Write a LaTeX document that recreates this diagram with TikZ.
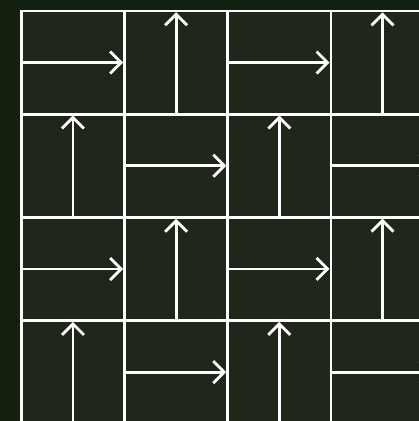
\documentclass[tikz,border=0pt]{standalone}
\usetikzlibrary{arrows.meta}
\definecolor{stripbg}{HTML}{142010}
\definecolor{panelbg}{HTML}{21261A}
\definecolor{gridline}{HTML}{FFFFFF}
\tikzset{
  gridstroke/.style={draw=gridline, line width=2.8pt, line cap=rect},
  flowarrow/.style={draw=gridline, line width=2.8pt,
    -{Straight Barb[length=11pt, width=22pt, line width=2.8pt]}},
}
\begin{document}
\begin{tikzpicture}[x=1pt, y=-1pt]
\useasboundingbox (0,0) rectangle (419,421);
\fill[stripbg] (0,0) rectangle (419,421);
\fill[panelbg] (21,11) rectangle (419,421);
\begin{scope}
\clip (0,0) rectangle (419,421);
\def\xo{21.3}\def\yo{10.9}\def\cs{103.2}
% grid lines
\foreach \k in {0,...,4}{
  \draw[gridstroke] ({\xo+\k*\cs},\yo) -- ({\xo+\k*\cs},440);
  \draw[gridstroke] (\xo,{\yo+\k*\cs}) -- (440,{\yo+\k*\cs});
}
% split lines with arrows
\foreach \r in {0,...,3}{
  \foreach \c in {0,...,3}{
    \pgfmathtruncatemacro{\parity}{mod(\r+\c,2)}
    \ifnum\parity=0
      \draw[flowarrow] ({\xo+\c*\cs},{\yo+(\r+0.5)*\cs}) -- ({\xo+(\c+1)*\cs-1.4},{\yo+(\r+0.5)*\cs});
    \else
      \draw[flowarrow] ({\xo+(\c+0.5)*\cs},{\yo+(\r+1)*\cs}) -- ({\xo+(\c+0.5)*\cs},{\yo+\r*\cs+1.4});
    \fi
  }
}
\end{scope}
\end{tikzpicture}
\end{document}
